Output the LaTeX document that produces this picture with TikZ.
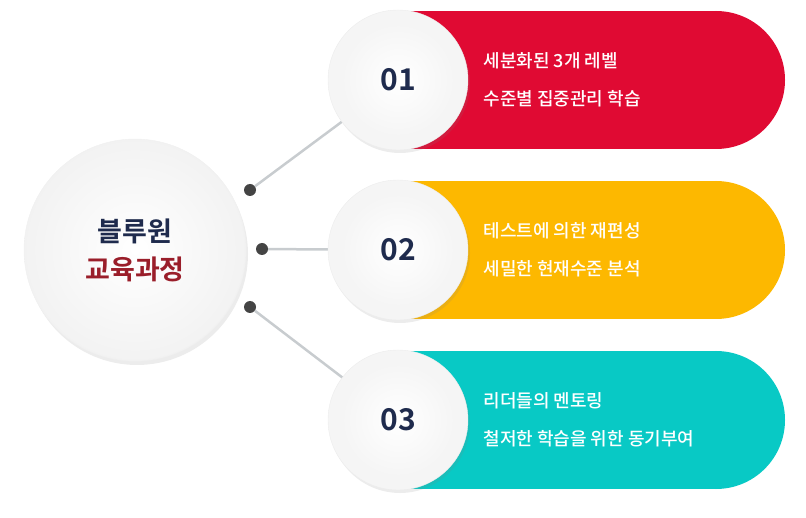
\documentclass[tikz,border=0pt]{standalone}
\usepackage{fontspec}
\setmainfont{Noto Sans CJK KR}[BoldFont={Noto Sans CJK KR Bold}]
\newfontfamily\krmed{Noto Sans CJK KR Medium}
\usetikzlibrary{shadows}
\definecolor{navy}{HTML}{1F2B4D}
\definecolor{wine}{HTML}{9A1E2A}
\definecolor{redc}{HTML}{E00A33}
\definecolor{yelc}{HTML}{FDB800}
\definecolor{teac}{HTML}{08C9C5}
\definecolor{dotc}{HTML}{444444}
\definecolor{linec}{HTML}{C8CCCF}
\tikzset{
  ring/.style={circle,fill=gray!8,draw=gray!15,minimum size=140pt,drop shadow={opacity=0.15,shadow xshift=2pt,shadow yshift=-3pt}},
  core/.style={circle,inner color=white,outer color=gray!8,minimum size=116pt,font=\bfseries\fontsize{30}{30}\selectfont,text=navy},
  dotn/.style={circle,fill=dotc,minimum size=12pt,inner sep=0pt},
  link/.style={linec,line width=2.5pt},
  txt/.style={anchor=west,text=white,align=left,font=\krmed\fontsize{18}{38}\selectfont}
}
\begin{document}
\begin{tikzpicture}[x=1pt,y=-1pt]
\useasboundingbox (0,0) rectangle (806,518);
% pills
\foreach \yc/\col in {80/redc,250/yelc,420/teac}{
  \fill[\col] (398,\yc-69) rectangle (716,\yc+69);
  \fill[\col] (716,\yc) circle[radius=69pt];
}
% main circle
\node[circle,inner color=white,outer color=gray!10,draw=gray!12,minimum size=222pt,
  drop shadow={opacity=0.15,shadow xshift=2pt,shadow yshift=-4pt},align=center,
  font=\bfseries\fontsize{27}{38}\selectfont] (main) at (135,250)
  {\textcolor{navy}{블루원}\\\textcolor{wine}{교육과정}};
% dots
\node[dotn] (d1) at (250,190) {};
\node[dotn] (d2) at (262,249) {};
\node[dotn] (d3) at (250,307) {};
% links
\coordinate (c1) at (398,80);
\coordinate (c2) at (398,250);
\coordinate (c3) at (398,420);
\draw[link] (d1) -- (c1);
\draw[link] (d2) -- (c2);
\draw[link] (d3) -- (c3);
% numbered circles
\node[ring] (r1) at (c1) {};
\node[ring] (r2) at (c2) {};
\node[ring] (r3) at (c3) {};
\node[core] (n1) at (r1) {01};
\node[core] (n2) at (r2) {02};
\node[core] (n3) at (r3) {03};
% texts
\node[txt] (t1) at (480,80) {세분화된 3개 레벨\\수준별 집중관리 학습};
\node[txt] (t2) at (480,250) {테스트에 의한 재편성\\세밀한 현재수준 분석};
\node[txt] (t3) at (480,420) {리더들의 멘토링\\철저한 학습을 위한 동기부여};
\end{tikzpicture}
\end{document}
